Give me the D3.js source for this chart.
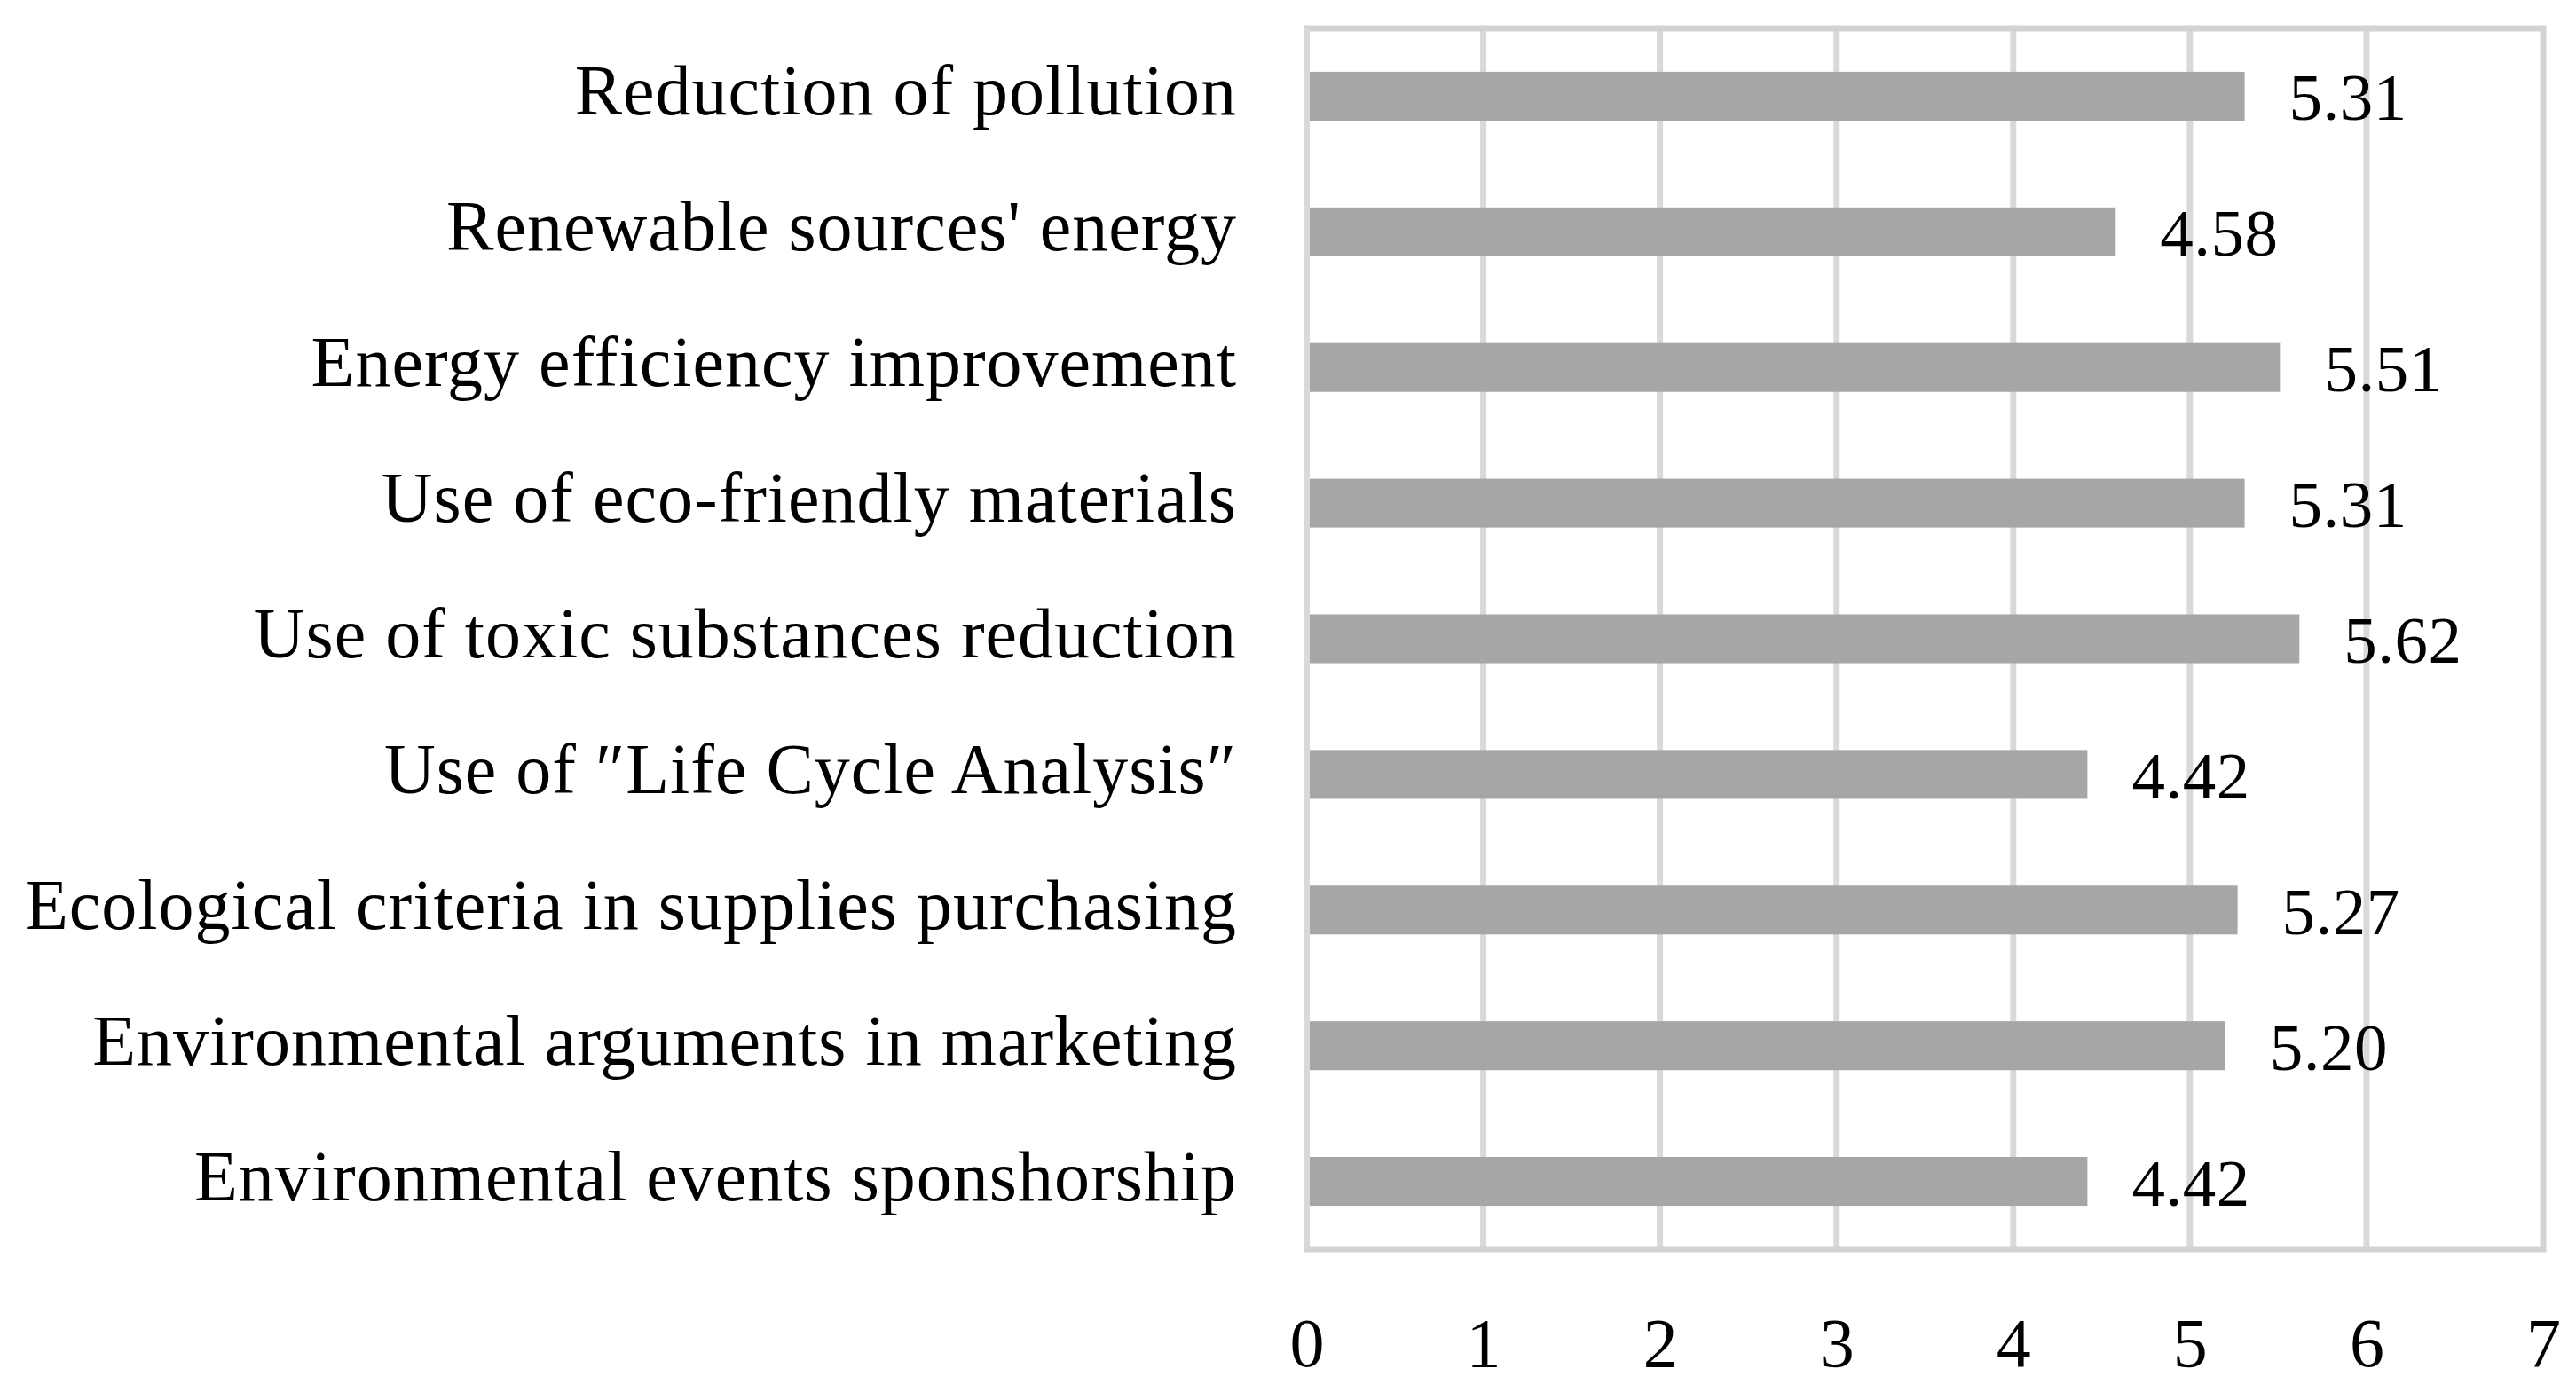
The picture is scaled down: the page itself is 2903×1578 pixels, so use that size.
<!DOCTYPE html>
<html>
<head>
<meta charset="utf-8">
<script src="https://cdn.jsdelivr.net/npm/d3@7"></script>
<style>
html, body { margin: 0; padding: 0; background: #ffffff; }
svg { display: block; }
text { font-family: "Liberation Serif", "Times New Roman", serif; fill: #000; }
</style>
</head>
<body>
<svg id="chart" width="2903" height="1578"></svg>
<script>
const categories = [
  "Reduction of pollution",
  "Renewable sources' energy",
  "Energy efficiency improvement",
  "Use of eco-friendly materials",
  "Use of toxic substances reduction",
  "Use of \u2033Life Cycle Analysis\u2033",
  "Ecological criteria in supplies purchasing",
  "Environmental arguments in marketing",
  "Environmental events sponshorship"
];
const values = [5.31, 4.58, 5.51, 5.31, 5.62, 4.42, 5.27, 5.20, 4.42];
const tickValues = [0, 1, 2, 3, 4, 5, 6, 7];

(function () {
const svg = d3.select("#chart");
const pLeft = 1472.5, pRight = 2866, pTop = 32, pBottom = 1408;

const x = d3.scaleLinear().domain([0, 7]).range([pLeft, pRight]);
const y = d3.scaleBand().domain(categories).range([pTop, pBottom])
  .paddingInner(0.64).paddingOuter(0.32);

// gridlines
svg.append("g").selectAll("line").data(tickValues.slice(1, -1)).join("line")
  .attr("x1", d => x(d)).attr("x2", d => x(d))
  .attr("y1", pTop).attr("y2", pBottom)
  .attr("stroke", "#d9d9d9").attr("stroke-width", 7);

// frame
svg.append("rect")
  .attr("x", pLeft).attr("y", pTop)
  .attr("width", pRight - pLeft).attr("height", pBottom - pTop)
  .attr("fill", "none").attr("stroke", "#d3d3d1").attr("stroke-width", 7);
svg.append("line")
  .attr("x1", pLeft).attr("x2", pLeft).attr("y1", pTop).attr("y2", pBottom)
  .attr("stroke", "#d9d9d9").attr("stroke-width", 7);

// bars
svg.append("g").selectAll("rect").data(values).join("rect")
  .attr("x", x(0) + 3.5)
  .attr("y", (d, i) => y(categories[i]))
  .attr("width", d => x(d) - x(0) - 3.5)
  .attr("height", y.bandwidth())
  .attr("fill", "#a6a6a6");

// value labels
svg.append("g").selectAll("text").data(values).join("text")
  .attr("x", d => x(d) + 50)
  .attr("y", (d, i) => y(categories[i]) + y.bandwidth() / 2 + 27)
  .attr("font-size", 75)
  .attr("letter-spacing", 0.5)
  .text(d => d3.format(".2f")(d));

// category labels
svg.append("g").selectAll("text").data(categories).join("text")
  .attr("x", 1394)
  .attr("y", d => y(d) + y.bandwidth() / 2 + 21)
  .attr("text-anchor", "end")
  .attr("font-size", 80)
  .attr("letter-spacing", 1)
  .text(d => d);

// x axis
const axis = svg.append("g")
  .attr("transform", `translate(0, ${pBottom})`)
  .call(d3.axisBottom(x).tickValues(tickValues).tickFormat(d3.format("d")).tickSize(0).tickPadding(0));
axis.select(".domain").remove();
axis.selectAll("text")
  .attr("font-family", "Liberation Serif, serif")
  .attr("font-size", 78)
  .attr("dy", null)
  .attr("y", 132)
  .attr("fill", "#000");
})();
</script>
</body>
</html>
